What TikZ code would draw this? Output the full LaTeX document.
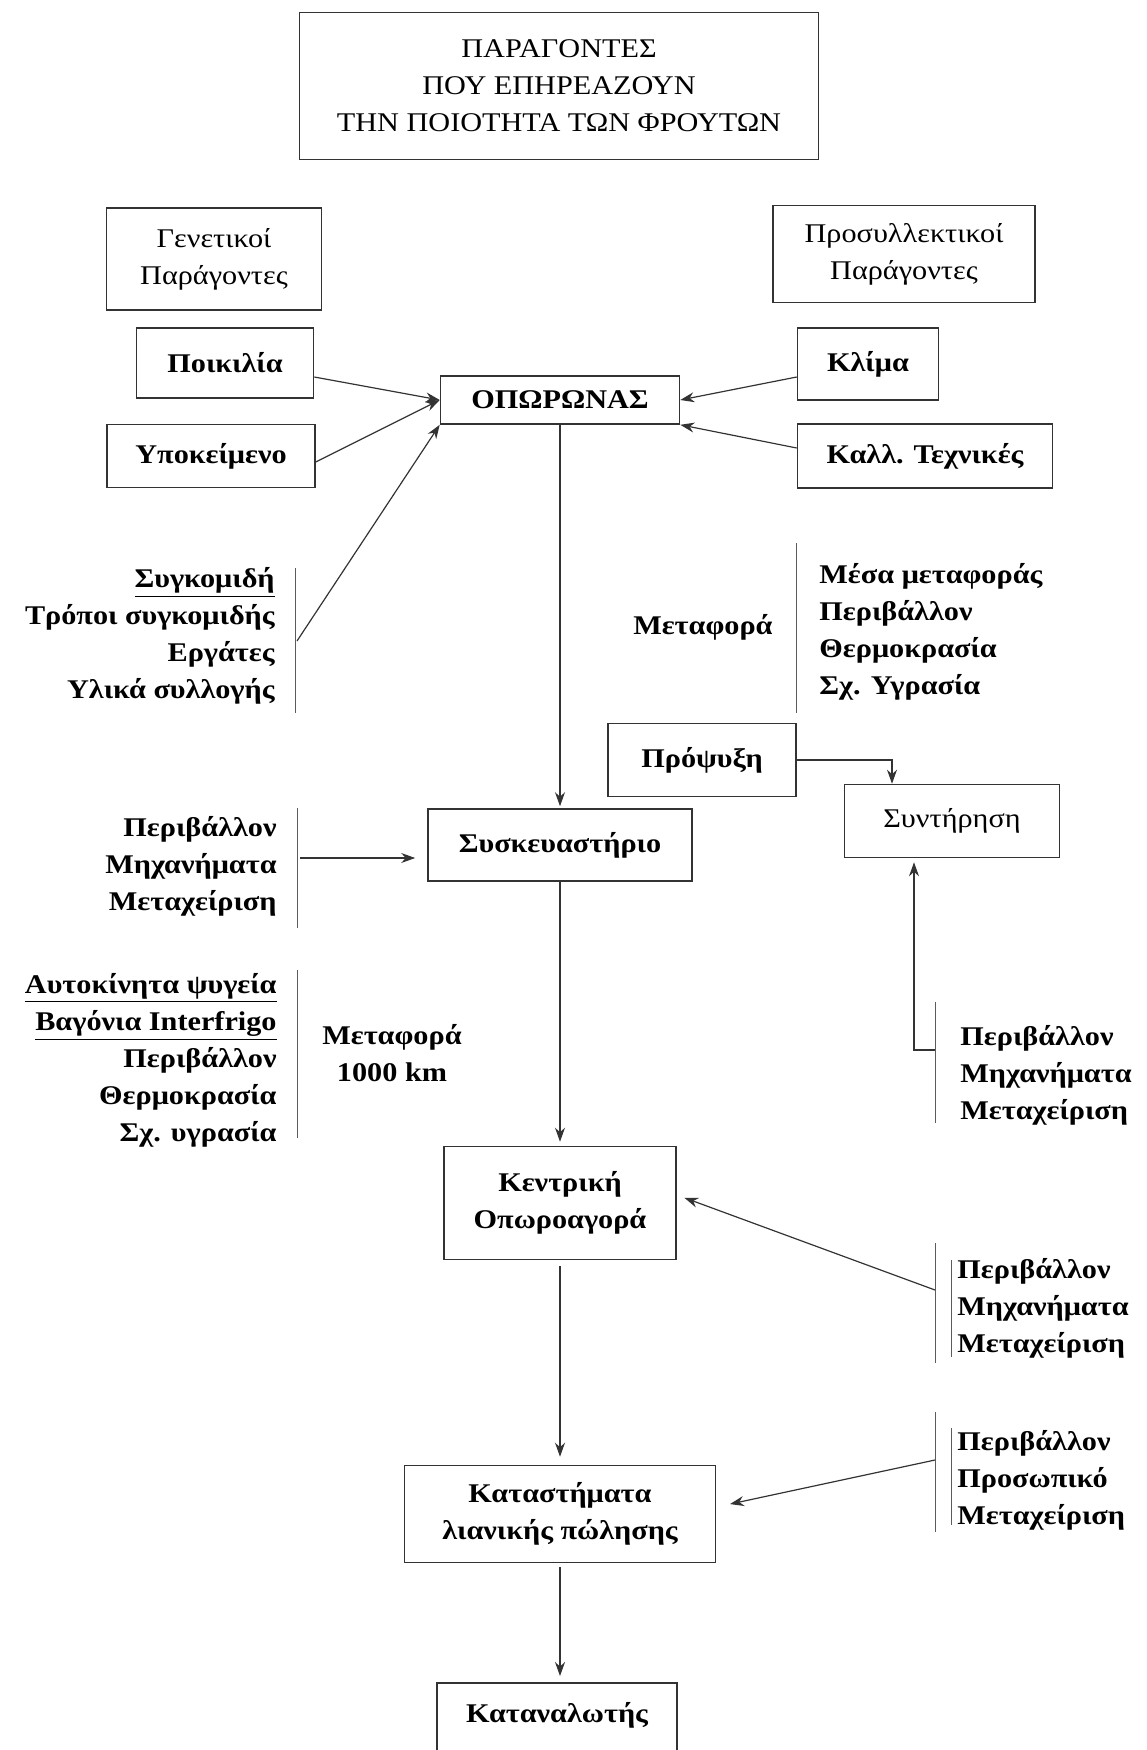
\documentclass[tikz,border=0pt]{standalone}
\usepackage{fontspec}
\setmainfont{Liberation Serif}[FakeStretch=1.12]
\usetikzlibrary{arrows.meta, positioning}
\definecolor{lineg}{gray}{0.2}
\newcommand{\dfont}{\fontsize{13.5pt}{18.5pt}\selectfont}

\begin{document}
\begin{tikzpicture}[
  x=0.5pt, y=-0.5pt,
  box/.style 2 args={rectangle, draw=lineg, line width=0.8pt, minimum width=#1,
    minimum height=#2, inner sep=2pt, align=center, font=\dfont\bfseries},
  plainbox/.style 2 args={box={#1}{#2}, font=\dfont},
  lstR/.style={font=\dfont\bfseries, inner sep=0pt, align=right, anchor=east},
  lstL/.style={font=\dfont\bfseries, inner sep=0pt, align=left, anchor=west},
  arr/.style={draw=lineg, line width=0.6pt, -{Stealth[length=7pt, width=5pt]}},
  bar/.style={draw=lineg!80, line width=0.5pt},
]
  \useasboundingbox (0,0) rectangle (1146,1750);
  \clip (0,0) rectangle (1146,1750);

  % title
  \node[plainbox={259.5pt}{73.5pt}] (title) at (559,86)
    {ΠΑΡΑΓΟΝΤΕΣ\\ΠΟΥ ΕΠΗΡΕΑΖΟΥΝ\\ΤΗΝ ΠΟΙΟΤΗΤΑ ΤΩΝ ΦΡΟΥΤΩΝ};

  % factor groups
  \node[plainbox={107.5pt}{51pt}] (gen) at (214,259) {Γενετικοί\\Παράγοντες};
  \node[plainbox={131pt}{48.5pt}] (pre) at (904,254) {Προσυλλεκτικοί\\Παράγοντες};
  \node[box={88.5pt}{35pt}] (poik) at (225,363) {Ποικιλία};
  \node[box={104pt}{31.5pt}] (ypok) at (211,456) {Υποκείμενο};
  \node[box={70.5pt}{36pt}] (klima) at (868,364) {Κλίμα};
  \node[box={127.5pt}{32pt}] (kall) at (925,456) {Καλλ. Τεχνικές};

  % chain
  \node[box={119.5pt}{24pt}] (opo) at (560,400) {ΟΠΩΡΩΝΑΣ};
  \node[box={132pt}{36pt}] (sysk) at (560,845) {Συσκευαστήριο};
  \node[box={94pt}{36.5pt}] (prop) at (702,760) {Πρόψυξη};
  \node[plainbox={107.5pt}{36.5pt}] (synt) at (952,821) {Συντήρηση};
  \node[box={116pt}{56.5pt}] (kent) at (560,1203) {Κεντρική\\Οπωροαγορά};
  \node[box={155.5pt}{48.5pt}] (katas) at (560,1514) {Καταστήματα\\λιανικής πώλησης};
  \node[box={120pt}{0pt}, anchor=north, text height=16pt, text depth=40pt,
    inner ysep=4pt] (cons) at (557,1682) {Καταναλωτής};

  % lists
  \node[lstR] (harv) at (275,636)
    {\underline{Συγκομιδή}\\Τρόποι συγκομιδής\\Εργάτες\\Υλικά συλλογής};
  \node[lstR] (tr1) at (773,627) {Μεταφορά};
  \node[lstL] (tr1f) at (819,632)
    {Μέσα μεταφοράς\\Περιβάλλον\\Θερμοκρασία\\Σχ. Υγρασία};
  \node[lstR] (pack) at (277,866) {Περιβάλλον\\Μηχανήματα\\Μεταχείριση};
  \node[lstR] (cars) at (277,1060)
    {\underline{Αυτοκίνητα ψυγεία}\\\underline{Βαγόνια Interfrigo}\\Περιβάλλον\\Θερμοκρασία\\Σχ. υγρασία};
  \node[font=\dfont\bfseries, align=center, inner sep=0pt] (tr2) at (392,1053)
    {Μεταφορά\\1000 km};
  \node[lstL] (stor) at (960,1075) {Περιβάλλον\\Μηχανήματα\\Μεταχείριση};
  \node[lstL] (mark) at (957,1308) {Περιβάλλον\\Μηχανήματα\\Μεταχείριση};
  \node[lstL] (shop) at (957,1480) {Περιβάλλον\\Προσωπικό\\Μεταχείριση};

  % bars
  \foreach \x/\a/\b in {295/568/713, 796/543/713, 297/808/928, 297/970/1138,
      935/1002/1123, 935/1243/1363, 951/1260/1357, 935/1412/1532, 951/1428/1525}
    \draw[bar] (\x,\a) -- (\x,\b);
  \coordinate (harvB) at (297,641);
  \coordinate (packB) at (300,858);
  \coordinate (storB) at (935,1050);
  \coordinate (markB) at (935,1290);
  \coordinate (shopB) at (935,1460);

  % connectors
  \draw[arr] ([yshift=-7pt]poik.east) -- (opo.west);
  \draw[arr] ([yshift=-3pt]ypok.east) -- (opo.west);
  \draw[arr] (harvB) -- (opo.south west);
  \draw[arr] ([yshift=-6.5pt]klima.west) -- (opo.east);
  \draw[arr] ([yshift=4pt]kall.west) -- (opo.south east);
  \draw[arr, shorten >=1pt] (opo) -- (sysk);
  \draw[arr, shorten >=6pt] (packB) -- (packB -| sysk.west);
  \draw[arr] (prop.east) -| ([xshift=-30pt]synt.north);
  \draw[arr, shorten >=2pt] (storB) -| ([xshift=-19pt]synt.south);
  \draw[arr, shorten >=2pt] (sysk) -- (kent);
  \draw[arr, shorten >=4pt] (markB) -- ([yshift=4pt]kent.east);
  \draw[arr, shorten <=3pt, shorten >=4pt] (kent) -- (katas);
  \draw[arr, shorten >=7pt] (shopB) -- ([yshift=3.5pt]katas.east);
  \draw[arr, shorten <=2pt, shorten >=3pt] (katas.south) -- (katas.south |- cons.north);
\end{tikzpicture}
\end{document}
